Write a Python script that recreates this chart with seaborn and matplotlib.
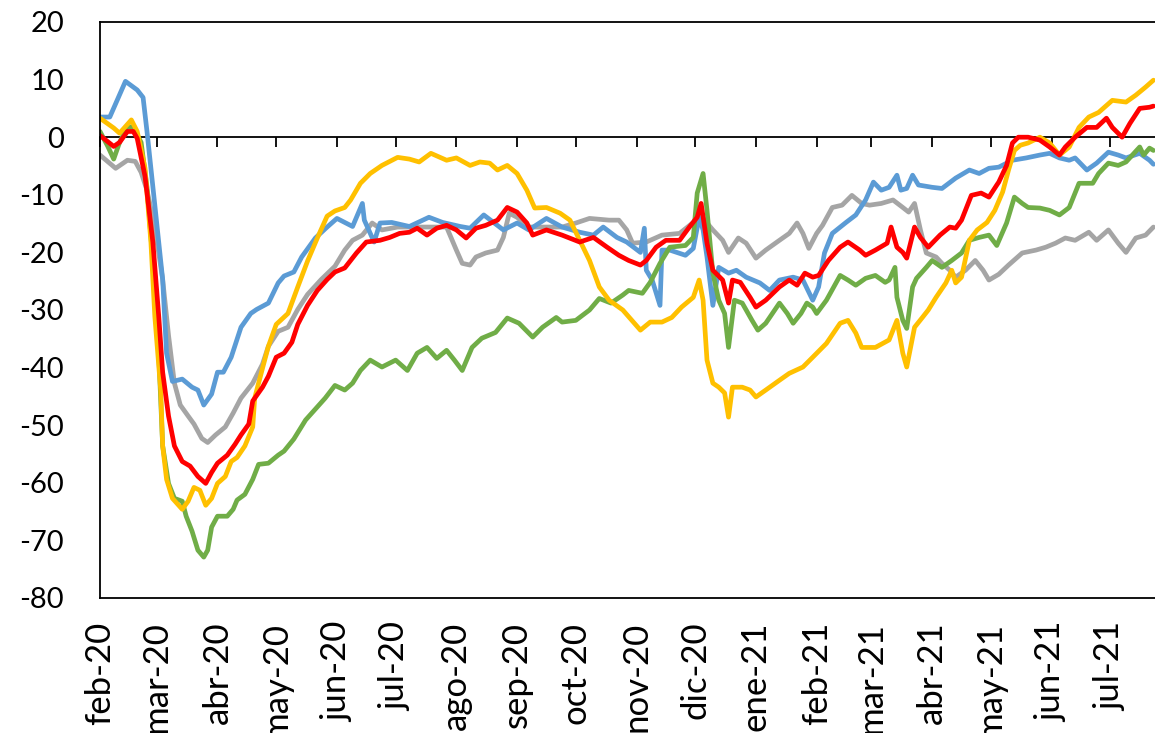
import numpy as np
import pandas as pd
import matplotlib
matplotlib.use("Agg")
import matplotlib.pyplot as plt
import matplotlib.dates as mdates
import seaborn as sns

# ---------------- data (days since 2020-02-01, values) ----------------
start_date = "2020-02-01"

blue_days = [0,5,13,19,22,24,28,32,34,37,42,47,50,53,57,60,63,67,72,77,80,86,91,94,99,103,110,116,121,129,
             134,135,140,143,149,158,168,175,184,189,196,201,206,213,219,228,236,245,252,257,264,269,276,278,279,
             282,286,287,291,299,303,306,308,310,313,316,321,325,330,337,342,347,354,359,364,367,370,374,381,386,
             391,395,399,403,407,409,412,415,418,425,430,437,444,449,454,459,466,473,480,485,490,495,498,504,509,
             515,520,524,531,536,538]
blue_vals = [3.5,3.5,9.7,8.2,6.9,1.0,-11.8,-24.7,-37.5,-42.4,-42.0,-43.4,-43.9,-46.5,-44.6,-40.8,-40.8,-38.2,-33.0,-30.6,
             -29.9,-28.8,-25.3,-24.1,-23.4,-20.8,-17.5,-15.6,-14.1,-15.5,-11.5,-14.4,-18.2,-14.9,-14.8,-15.5,-13.9,-14.8,
             -15.5,-15.8,-13.5,-14.8,-16.1,-14.9,-16.1,-14.1,-15.6,-16.5,-17.0,-15.6,-17.4,-18.2,-20.0,-15.8,-23.1,-24.8,
             -29.2,-19.6,-19.6,-20.5,-19.3,-13.9,-16.1,-20.8,-29.2,-22.6,-23.6,-23.1,-24.3,-25.3,-26.6,-24.8,-24.3,-24.8,
             -28.3,-26.0,-20.1,-16.7,-14.8,-13.5,-10.9,-7.8,-9.2,-8.7,-6.6,-9.2,-8.9,-6.6,-8.3,-8.7,-8.9,-7.1,-5.7,-6.3,
             -5.4,-5.2,-4.0,-3.6,-3.1,-2.8,-3.6,-4.0,-3.6,-5.7,-4.5,-2.6,-3.1,-3.6,-2.8,-4.0,-4.7]

yellow_days = [0,7,10,16,19,23,26,28,31,32,34,37,42,45,48,51,54,57,60,64,67,70,74,78,79,83,86,90,96,101,
               106,111,116,120,125,128,133,138,144,152,158,163,169,177,182,189,194,199,203,208,213,218,222,228,235,
               240,245,250,255,260,267,276,281,287,292,297,303,306,308,310,313,316,319,321,323,328,332,335,340,347,
               352,359,364,371,378,382,386,389,396,403,407,410,412,416,420,423,427,432,435,437,440,444,448,453,457,
               461,464,467,470,474,480,485,490,495,500,505,510,517,524,529,534,538]
yellow_vals = [3.3,1.6,0.7,3.0,1.0,-5.4,-18.2,-31.1,-43.9,-53.6,-59.4,-62.7,-64.6,-63.2,-60.8,-61.3,-63.9,-62.7,-60.1,-58.9,
               -56.3,-55.6,-53.6,-50.3,-45.3,-40.1,-36.3,-32.5,-30.6,-26.0,-21.5,-17.5,-13.7,-12.8,-12.2,-10.9,-8.0,-6.3,
               -4.9,-3.5,-3.8,-4.3,-2.8,-4.0,-3.6,-4.9,-4.3,-4.5,-5.7,-4.9,-6.3,-9.2,-12.3,-12.2,-13.2,-14.4,-17.9,-21.4,
               -26.0,-28.3,-30.0,-33.5,-32.1,-32.1,-31.3,-29.5,-27.8,-24.8,-28.3,-38.7,-42.7,-43.4,-44.4,-48.6,-43.4,-43.4,
               -43.9,-45.1,-43.9,-42.2,-41.0,-39.9,-38.2,-35.8,-32.3,-31.8,-34.0,-36.5,-36.5,-35.2,-31.8,-37.5,-39.9,-33.0,
               -31.3,-30.0,-27.8,-25.3,-23.1,-25.3,-24.3,-17.9,-16.1,-14.8,-12.7,-9.5,-5.7,-2.3,-1.4,-1.0,0.0,-1.0,-3.1,
               -1.7,1.7,3.5,4.3,6.4,6.1,7.3,8.7,9.9]

gray_days = [0,8,14,18,21,24,28,32,35,38,41,45,48,52,55,59,64,68,72,78,83,86,91,96,101,106,113,120,125,129,
             134,139,144,152,160,168,177,182,185,189,192,197,203,206,209,213,219,228,236,243,250,260,265,269,272,
             279,287,296,303,306,310,313,318,321,326,330,335,340,347,352,356,359,362,366,369,374,379,384,389,393,
             399,405,410,413,416,419,422,427,430,434,437,442,447,451,454,459,464,471,478,483,488,493,498,505,509,
             515,520,524,529,534,538]
gray_vals = [-3.1,-5.4,-4.0,-4.2,-6.1,-9.2,-15.6,-24.7,-34.4,-42.7,-46.5,-48.4,-49.8,-52.3,-53.0,-51.7,-50.3,-47.9,-45.3,
             -42.7,-39.4,-36.3,-33.7,-33.0,-29.9,-27.3,-24.7,-22.4,-19.6,-17.9,-17.0,-14.9,-16.1,-15.6,-15.6,-15.6,-15.6,
             -19.6,-21.9,-22.2,-20.8,-20.1,-19.6,-17.4,-13.2,-13.9,-15.6,-15.6,-15.6,-14.9,-14.1,-14.4,-14.4,-16.1,-18.4,
             -18.2,-17.0,-16.7,-14.8,-13.2,-14.9,-16.1,-17.9,-20.0,-17.5,-18.4,-21.0,-19.6,-17.9,-16.7,-14.9,-16.7,-19.3,
             -16.7,-15.3,-12.2,-11.8,-10.1,-11.5,-11.8,-11.5,-10.9,-12.2,-13.0,-11.5,-16.1,-20.1,-20.8,-21.9,-23.1,-24.3,
             -23.1,-21.4,-23.1,-24.8,-23.8,-22.2,-20.1,-19.6,-19.1,-18.4,-17.5,-17.9,-16.5,-17.9,-16.1,-18.4,-20.0,-17.5,
             -17.0,-15.6]

green_days = [0,4,7,10,14,17,21,24,27,30,32,35,38,42,44,47,50,53,55,57,60,65,68,70,74,78,81,86,91,94,
              99,105,110,115,120,125,129,133,138,144,151,157,162,167,172,177,181,185,190,195,202,208,214,221,226,
              233,236,243,250,255,261,267,270,277,281,286,291,299,303,305,308,310,313,316,319,321,324,328,333,336,
              340,347,351,354,358,361,364,366,371,378,382,386,391,396,401,403,406,407,410,412,415,417,422,425,430,
              435,440,444,449,454,458,463,467,471,474,480,485,490,495,500,507,510,515,520,524,528,531,533,536,538]
green_vals = [1.0,-1.6,-3.8,-0.9,1.9,1.7,-0.9,-8.7,-21.5,-37.5,-53.6,-60.1,-62.7,-63.2,-65.8,-68.4,-71.7,-72.9,-71.7,-67.7,
              -65.8,-65.8,-64.6,-63.0,-62.0,-59.4,-56.8,-56.6,-55.2,-54.5,-52.4,-49.1,-47.2,-45.3,-43.1,-43.9,-42.7,-40.5,
              -38.7,-39.9,-38.7,-40.5,-37.5,-36.5,-38.4,-37.0,-38.7,-40.5,-36.5,-34.9,-33.9,-31.4,-32.3,-34.7,-33.0,-31.3,
              -32.1,-31.8,-30.0,-28.0,-28.8,-27.4,-26.6,-27.1,-25.2,-21.9,-19.1,-18.8,-17.4,-9.7,-6.3,-12.7,-23.6,-28.3,
              -30.6,-36.5,-28.3,-28.8,-31.8,-33.5,-32.3,-28.8,-30.6,-32.3,-30.6,-28.8,-29.5,-30.6,-28.3,-24.0,-24.8,-25.7,
              -24.5,-24.0,-25.2,-24.8,-22.6,-27.8,-31.8,-33.2,-26.0,-24.5,-22.6,-21.4,-22.6,-21.4,-20.1,-17.9,-17.4,-17.0,
              -18.8,-14.9,-10.4,-11.5,-12.2,-12.3,-12.7,-13.5,-12.2,-8.0,-8.0,-6.3,-4.5,-4.9,-4.3,-2.8,-1.7,-3.1,-1.9,-2.3]

red_days = [0,7,10,14,17,19,23,27,30,32,35,38,42,46,50,54,57,60,65,69,72,76,78,83,86,90,94,98,101,106,
            111,116,120,125,131,136,143,148,153,158,162,167,172,177,182,187,192,197,203,208,213,218,221,228,236,
            245,252,259,265,270,276,279,284,289,296,301,305,307,310,313,318,321,323,327,332,335,340,347,352,356,
            360,364,367,372,378,382,388,391,396,402,404,407,410,412,416,419,423,429,434,437,440,445,450,454,458,
            459,463,466,469,474,480,485,490,493,498,504,509,514,517,522,526,531,536,538]
red_vals = [0.3,-1.6,-0.9,1.0,1.0,-0.2,-6.8,-18.2,-31.1,-40.8,-48.4,-53.6,-56.3,-57.1,-58.9,-60.1,-58.2,-56.6,-55.2,-53.3,
            -51.7,-49.8,-45.8,-43.4,-41.5,-38.2,-37.5,-35.6,-32.5,-29.2,-26.6,-24.7,-23.4,-22.7,-20.1,-18.2,-17.9,-17.4,
            -16.7,-16.5,-15.8,-17.0,-15.8,-15.3,-16.1,-17.5,-15.8,-15.3,-14.4,-12.2,-13.0,-14.9,-17.0,-16.1,-17.0,-18.2,
            -17.4,-19.1,-20.5,-21.4,-22.2,-21.4,-19.1,-17.9,-17.9,-15.6,-13.9,-11.5,-18.4,-23.1,-24.8,-28.8,-24.8,-25.2,
            -27.8,-29.5,-28.3,-26.0,-24.8,-25.7,-23.6,-24.3,-24.0,-21.4,-19.1,-18.2,-19.6,-20.5,-19.6,-18.4,-15.6,-19.1,
            -20.0,-21.0,-15.6,-17.4,-19.1,-17.0,-15.6,-15.8,-14.4,-10.1,-9.7,-10.4,-8.3,-7.8,-4.9,-1.0,0.0,0.0,-0.5,
            -1.7,-3.1,-1.7,0.0,1.7,1.7,3.3,1.7,0.0,2.4,5.0,5.2,5.4]

series_names = ["gris", "azul", "verde", "amarillo", "rojo"]
series_colors = ["#A5A5A5", "#5B9BD5", "#70AD47", "#FFC000", "#FF0000"]

tick_labels = ["feb-20", "mar-20", "abr-20", "may-20", "jun-20", "jul-20", "ago-20", "sep-20", "oct-20",
               "nov-20", "dic-20", "ene-21", "feb-21", "mar-21", "abr-21", "may-21", "jun-21", "jul-21"]
y_ticks = [-80, -70, -60, -50, -40, -30, -20, -10, 0, 10, 20]

# ---------------- build table ----------------
start = pd.Timestamp(start_date)
raw = {"gris": (gray_days, gray_vals), "azul": (blue_days, blue_vals), "verde": (green_days, green_vals),
       "amarillo": (yellow_days, yellow_vals), "rojo": (red_days, red_vals)}
frames = []
for name in series_names:
    d, v = raw[name]
    frames.append(pd.DataFrame({"fecha": start + pd.to_timedelta(d, unit="D"), "valor": v, "serie": name}))
df = pd.concat(frames, ignore_index=True)

# ---------------- plot ----------------
sns.set_style("white")
plt.rcParams["font.family"] = ["Lato", "DejaVu Sans"]

fig = plt.figure(figsize=(11.55, 7.33), dpi=100)
ax = fig.add_axes([100 / 1155, 1 - 598 / 733, 1055 / 1155, 576 / 733])

sns.lineplot(data=df, x="fecha", y="valor", hue="serie", hue_order=series_names,
             palette=dict(zip(series_names, series_colors)), estimator=None, linewidth=3.4,
             legend=False, ax=ax)
for ln in ax.get_lines():
    ln.set_solid_joinstyle("round")
    ln.set_solid_capstyle("round")

month_ticks = pd.date_range(start, periods=len(tick_labels), freq="MS")
ax.set_xlim(start, start + pd.Timedelta(days=538.8))
ax.set_ylim(-80, 20)
ax.set_yticks(y_ticks)
ax.set_yticklabels([str(t) for t in y_ticks])
ax.set_xticks(month_ticks)
ax.set_xticklabels(tick_labels, rotation=90)
ax.set_xlabel("")
ax.set_ylabel("")
ax.tick_params(axis="x", length=0, pad=17, labelsize=25, colors="black")
ax.tick_params(axis="y", length=0, pad=26, labelsize=21, colors="black")
for s in ["left", "top", "bottom"]:
    ax.spines[s].set_color("black")
    ax.spines[s].set_linewidth(1.3)
ax.spines["right"].set_visible(False)

# axis line at zero with month tick marks
sec = ax.secondary_xaxis(0, transform=ax.transData)
sec.set_xticks(mdates.date2num(month_ticks))
sec.tick_params(axis="x", direction="out", length=7.5, width=1.3, color="black", labelbottom=False, labeltop=False)
sec.spines["bottom"].set_color("black")
sec.spines["bottom"].set_linewidth(1.3)

fig.savefig("out.png", dpi=100)
